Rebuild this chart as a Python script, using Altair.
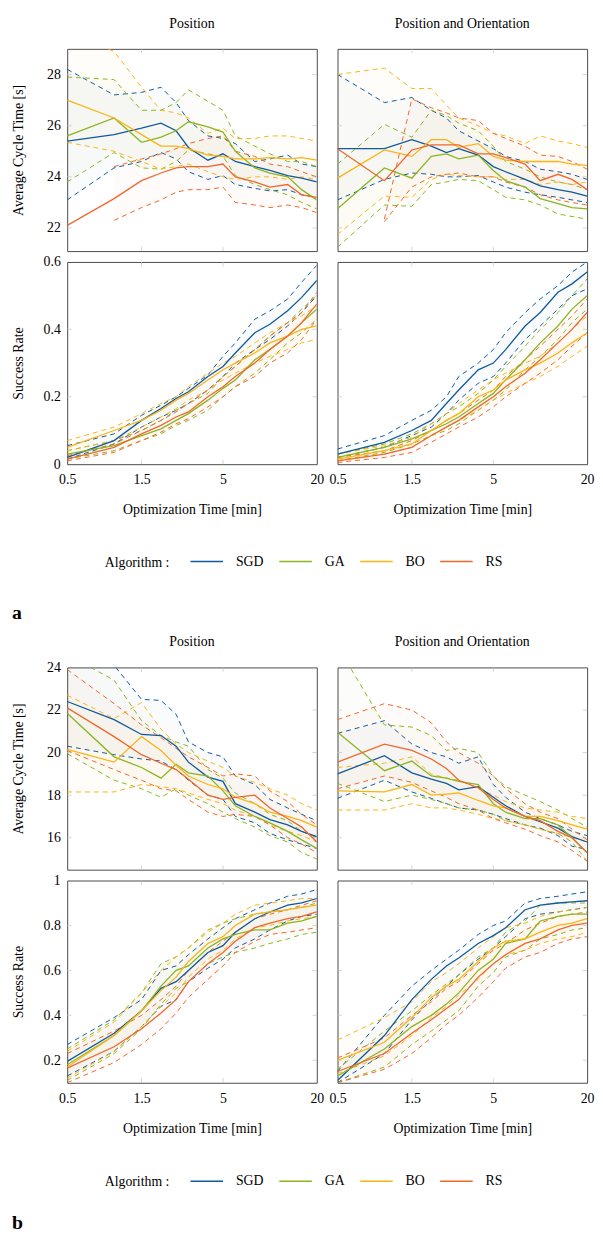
import json
import altair as alt
import pandas as pd

# ---------------- shared axes / categories ----------------
X = [0.5, 1, 1.5, 2, 2.5, 3, 4, 5, 6, 8, 10, 13, 16, 20]
X_TICKS = [0.5, 1.5, 5, 20]
ALGOS = ["SGD", "GA", "BO", "RS"]
COLORS = ["#10599c", "#8bb520", "#fbb414", "#f0672b"]
FONT = "Liberation Serif"

# each tuple: (mean, lower bound, upper bound)
# ---------------- a: Position, Average Cycle Time ----------------
A_POS_CT_SGD = ([25.4, 25.65, 25.9, 26.1, 25.8, 25.15, 24.65, 24.9, 24.6, 24.4, 24.25, 24.05, 23.95, 23.8],
                [23.1, 24.35, 24.6, 24.95, 24.7, 24.2, 23.9, 24.05, 23.7, 23.55, 23.45, 23.5, 23.3, 23.2],
                [28.2, 27.2, 27.3, 27.5, 26.9, 26.2, 25.6, 25.5, 25.3, 24.6, 24.7, 24.85, 24.5, 24.4])
A_POS_CT_GA = ([25.6, 26.3, 25.35, 25.55, 25.8, 26.15, 25.95, 25.75, 25.0, 24.35, 24.15, 24.0, 23.5, 23.1],
               [23.8, 24.95, 24.35, 24.3, 24.6, 25.05, 24.9, 24.8, 24.05, 23.7, 23.5, 23.3, 23.0, 22.75],
               [27.9, 27.8, 26.6, 26.6, 26.9, 27.4, 26.95, 26.6, 25.6, 25.2, 24.9, 24.6, 24.6, 24.4])
A_POS_CT_BO = ([27.0, 26.3, 25.65, 25.2, 25.2, 25.1, 24.85, 24.8, 24.7, 24.7, 24.75, 24.7, 24.75, 24.65],
               [25.35, 25.0, 24.6, 24.3, 24.4, 24.5, 24.2, 24.0, 23.9, 24.0, 24.0, 23.9, 24.0, 23.9],
               [29.6, 28.9, 27.5, 26.6, 26.5, 26.3, 25.7, 25.9, 25.5, 25.5, 25.6, 25.6, 25.5, 25.4])
A_POS_CT_RS = ([22.1, 23.15, 23.85, 24.15, 24.35, 24.4, 24.4, 24.5, 24.0, 23.8, 23.6, 23.7, 23.3, 23.2],
               [None, 22.3, 22.8, 23.1, 23.4, 23.5, 23.5, 23.6, 23.0, 22.9, 22.8, 22.9, 22.8, 22.6],
               [None, 24.4, 24.7, 24.9, 25.1, 25.3, 25.5, 25.6, 25.0, 24.8, 24.5, 24.4, 24.2, 24.0])

# ---------------- a: Position and Orientation, Average Cycle Time ----------------
A_PO_CT_SGD = ([25.1, 25.1, 25.45, 25.2, 24.95, 25.1, 24.85, 24.4, 24.2, 23.9, 23.65, 23.5, 23.4, 23.25],
               [23.1, 23.9, 24.15, 24.1, 24.0, 24.0, 24.05, 23.8, 23.6, 23.4, 23.3, 23.2, 23.1, 23.0],
               [28.0, 26.9, 27.1, 26.6, 26.3, 25.8, 25.4, 25.1, 24.8, 24.6, 24.3, 24.2, 24.1, 23.9])
A_PO_CT_GA = ([22.75, 24.35, 23.95, 24.8, 24.9, 24.7, 24.85, 24.25, 23.85, 23.6, 23.15, 22.95, 22.8, 22.75],
              [21.25, 22.9, 22.85, 23.7, 23.8, 23.9, 23.85, 23.5, 23.2, 23.1, 22.9, 22.55, 22.45, 22.35],
              [24.5, 26.05, 25.55, 26.6, 26.4, 26.1, 25.8, 25.2, 24.6, 24.3, 24.0, 23.8, 23.7, 23.5])
A_PO_CT_BO = ([23.95, 25.05, 24.8, 25.45, 25.45, 25.15, 25.3, 24.8, 24.65, 24.6, 24.6, 24.6, 24.5, 24.45],
              [21.75, 23.25, 23.2, 23.9, 24.1, 24.05, 24.0, 24.0, 23.9, 23.9, 23.7, 23.8, 23.7, 23.8],
              [28.0, 28.25, 27.45, 27.45, 26.8, 26.3, 26.0, 25.7, 25.6, 25.3, 25.6, 25.4, 25.3, 25.15])
A_PO_CT_RS = ([25.1, 23.85, 25.05, 25.25, 25.25, 25.25, 24.9, 24.9, 24.75, 24.5, 23.85, 24.1, 23.9, 23.5],
              [None, 22.25, 23.6, 24.0, 24.1, 24.15, 24.0, 24.0, 23.8, 23.6, 23.3, 23.1, 23.0, 22.9],
              [None, 22.35, 27.05, 26.7, 26.5, 26.3, 26.2, 25.7, 25.5, 25.2, 24.85, 24.8, 24.6, 24.3])

# ---------------- a: Position, Success Rate ----------------
A_POS_SR_SGD = ([0.02, 0.07, 0.13, 0.165, 0.195, 0.215, 0.26, 0.29, 0.33, 0.39, 0.415, 0.455, 0.495, 0.545],
                [0.015, 0.06, 0.11, 0.14, 0.16, 0.18, 0.22, 0.26, 0.3, 0.34, 0.37, 0.41, 0.45, 0.5],
                [0.055, 0.09, 0.145, 0.175, 0.2, 0.225, 0.265, 0.32, 0.36, 0.43, 0.455, 0.49, 0.54, 0.59])
A_POS_SR_GA = ([0.03, 0.055, 0.085, 0.105, 0.13, 0.15, 0.19, 0.225, 0.25, 0.31, 0.34, 0.38, 0.42, 0.46],
               [0.015, 0.04, 0.07, 0.09, 0.115, 0.13, 0.16, 0.2, 0.23, 0.27, 0.31, 0.36, 0.39, 0.43],
               [0.04, 0.07, 0.1, 0.13, 0.16, 0.18, 0.21, 0.26, 0.29, 0.34, 0.38, 0.42, 0.46, 0.5])
A_POS_SR_BO = ([0.05, 0.1, 0.13, 0.16, 0.19, 0.21, 0.25, 0.28, 0.3, 0.33, 0.36, 0.38, 0.4, 0.41],
               [0.04, 0.07, 0.11, 0.14, 0.165, 0.19, 0.22, 0.25, 0.27, 0.3, 0.32, 0.34, 0.36, 0.37],
               [0.07, 0.11, 0.15, 0.18, 0.2, 0.23, 0.27, 0.3, 0.32, 0.36, 0.39, 0.42, 0.44, 0.47])
A_POS_SR_RS = ([0.015, 0.05, 0.09, 0.115, 0.14, 0.155, 0.2, 0.23, 0.26, 0.3, 0.34, 0.38, 0.42, 0.475],
               [0.01, 0.035, 0.07, 0.095, 0.12, 0.135, 0.17, 0.2, 0.23, 0.26, 0.3, 0.33, 0.37, 0.43],
               [0.025, 0.06, 0.1, 0.13, 0.155, 0.18, 0.22, 0.26, 0.29, 0.34, 0.38, 0.42, 0.45, 0.51])

# ---------------- a: Position and Orientation, Success Rate ----------------
A_PO_SR_SGD = ([0.03, 0.065, 0.1, 0.13, 0.18, 0.22, 0.28, 0.3, 0.34, 0.41, 0.45, 0.51, 0.535, 0.57],
               [0.02, 0.05, 0.085, 0.11, 0.15, 0.19, 0.24, 0.26, 0.3, 0.37, 0.41, 0.46, 0.5, 0.52],
               [0.045, 0.085, 0.13, 0.16, 0.2, 0.26, 0.3, 0.34, 0.39, 0.45, 0.49, 0.53, 0.57, 0.6])
A_PO_SR_GA = ([0.02, 0.05, 0.075, 0.1, 0.12, 0.14, 0.18, 0.21, 0.25, 0.31, 0.36, 0.41, 0.46, 0.5],
              [0.01, 0.035, 0.06, 0.085, 0.1, 0.12, 0.16, 0.19, 0.22, 0.28, 0.32, 0.37, 0.42, 0.46],
              [0.03, 0.06, 0.09, 0.12, 0.15, 0.17, 0.21, 0.25, 0.29, 0.35, 0.4, 0.45, 0.5, 0.55])
A_PO_SR_BO = ([0.015, 0.04, 0.06, 0.1, 0.13, 0.15, 0.2, 0.22, 0.25, 0.28, 0.3, 0.33, 0.36, 0.39],
              [0.01, 0.03, 0.05, 0.085, 0.11, 0.13, 0.16, 0.19, 0.21, 0.24, 0.26, 0.29, 0.32, 0.35],
              [0.03, 0.055, 0.08, 0.12, 0.15, 0.18, 0.22, 0.25, 0.27, 0.3, 0.32, 0.36, 0.4, 0.44])
A_PO_SR_RS = ([0.01, 0.03, 0.05, 0.085, 0.11, 0.13, 0.17, 0.2, 0.23, 0.27, 0.31, 0.36, 0.4, 0.45],
              [0.005, 0.02, 0.035, 0.065, 0.09, 0.11, 0.14, 0.17, 0.2, 0.24, 0.27, 0.31, 0.35, 0.39],
              [0.02, 0.04, 0.07, 0.1, 0.13, 0.15, 0.19, 0.22, 0.26, 0.31, 0.35, 0.4, 0.44, 0.49])

# ---------------- b: Position, Average Cycle Time ----------------
B_POS_CT_SGD = ([22.4, 21.55, 20.85, 20.8, 20.3, 19.55, 18.85, 18.65, 17.6, 17.2, 16.85, 16.6, 16.3, 16.05],
                [20.3, 19.9, 19.7, 19.6, 19.2, 18.7, 18.0, 17.8, 17.0, 16.7, 16.2, 15.9, 15.7, 15.5],
                [25.0, 24.1, 22.5, 22.45, 21.8, 20.5, 20.0, 19.8, 18.9, 18.5, 17.8, 17.4, 17.1, 16.8])
B_POS_CT_GA = ([21.85, 19.8, 19.3, 18.8, 19.45, 19.05, 18.9, 18.2, 17.5, 17.0, 16.7, 16.3, 15.9, 15.5],
               [19.95, 18.7, 18.3, 17.9, 18.3, 18.0, 17.6, 17.2, 16.9, 16.5, 16.1, 15.8, 15.3, 15.0],
               [24.6, 23.4, 21.5, 20.8, 20.5, 20.3, 19.2, 18.8, 18.1, 17.6, 17.1, 16.8, 16.3, 16.0])
B_POS_CT_BO = ([20.15, 19.55, 20.75, 20.1, 19.4, 18.9, 18.5, 18.3, 17.9, 17.6, 17.2, 17.0, 16.8, 16.5],
               [18.15, 18.15, 18.5, 18.4, 18.3, 18.1, 17.8, 17.6, 17.3, 17.0, 16.6, 16.3, 16.1, 15.8],
               [22.7, 21.6, 22.35, 21.1, 20.4, 20.0, 19.6, 19.3, 18.9, 18.6, 18.3, 18.0, 17.6, 17.3])
B_POS_CT_RS = ([22.1, 20.75, 19.9, 19.5, 19.2, 18.75, 18.0, 17.8, 17.9, 18.0, 17.4, 16.9, 16.5, 15.8],
               [20.1, 19.2, 18.7, 18.3, 18.2, 17.8, 17.2, 17.0, 17.1, 17.0, 16.6, 16.0, 15.7, 15.3],
               [23.9, 22.3, 21.3, 20.7, 20.2, 19.8, 19.3, 18.9, 19.0, 18.9, 18.2, 17.7, 17.1, 16.6])

# ---------------- b: Position and Orientation, Average Cycle Time ----------------
B_PO_CT_SGD = ([19.0, 19.85, 19.05, 18.75, 18.55, 18.25, 18.4, 17.9, 17.5, 17.0, 16.75, 16.45, 16.05, 15.8],
               [17.85, 18.7, 18.15, 17.85, 17.6, 17.4, 17.3, 17.1, 16.9, 16.6, 16.45, 16.1, 15.6, 15.45],
               [20.9, 21.5, 20.4, 20.0, 19.8, 19.5, 19.8, 18.5, 17.9, 17.2, 16.9, 16.6, 16.3, 16.1])
B_PO_CT_GA = ([20.95, 19.15, 19.6, 18.9, 18.8, 18.65, 18.5, 17.6, 17.2, 16.9, 16.9, 16.6, 16.0, 15.3],
              [18.55, 17.7, 18.0, 17.8, 17.6, 17.4, 17.3, 17.1, 16.8, 16.6, 16.4, 16.2, 15.8, 14.9],
              [25.0, 21.3, 21.2, 20.8, 20.1, 20.2, 20.0, 18.9, 18.4, 18.0, 17.7, 17.3, 16.9, 16.5])
B_PO_CT_BO = ([18.2, 18.15, 18.5, 18.0, 18.05, 18.1, 17.75, 17.5, 17.4, 17.0, 17.0, 16.8, 16.6, 16.4],
              [17.3, 17.3, 17.6, 17.4, 17.4, 17.3, 17.1, 16.9, 16.8, 16.6, 16.4, 16.2, 16.0, 15.8],
              [19.3, 19.5, 19.8, 19.0, 18.8, 18.7, 18.3, 18.0, 17.7, 17.4, 17.3, 17.2, 17.0, 16.9])
B_PO_CT_RS = ([19.55, 20.4, 20.1, 19.7, 19.25, 18.7, 18.35, 17.8, 17.4, 17.0, 16.8, 16.3, 16.0, 15.3],
              [18.3, 18.9, 18.6, 18.2, 17.9, 17.6, 17.3, 16.9, 16.7, 16.4, 16.1, 15.8, 15.4, 14.9],
              [21.55, 22.3, 22.0, 21.4, 20.5, 20.0, 19.5, 18.9, 18.3, 17.6, 17.2, 16.9, 16.4, 15.9])

# ---------------- b: Position, Success Rate ----------------
B_POS_SR_SGD = ([0.195, 0.32, 0.42, 0.52, 0.55, 0.6, 0.68, 0.71, 0.77, 0.83, 0.86, 0.89, 0.9, 0.92],
                [0.13, 0.24, 0.35, 0.44, 0.47, 0.55, 0.61, 0.65, 0.7, 0.74, 0.78, 0.82, 0.84, 0.85],
                [0.27, 0.39, 0.47, 0.6, 0.62, 0.67, 0.74, 0.79, 0.83, 0.87, 0.9, 0.93, 0.94, 0.96])
B_POS_SR_GA = ([0.18, 0.31, 0.42, 0.53, 0.6, 0.62, 0.7, 0.74, 0.76, 0.78, 0.78, 0.81, 0.82, 0.84],
               [0.11, 0.23, 0.34, 0.45, 0.52, 0.55, 0.63, 0.66, 0.68, 0.7, 0.72, 0.74, 0.76, 0.77],
               [0.25, 0.38, 0.5, 0.63, 0.66, 0.7, 0.78, 0.81, 0.83, 0.85, 0.86, 0.87, 0.88, 0.9])
B_POS_SR_BO = ([0.17, 0.31, 0.42, 0.51, 0.57, 0.64, 0.72, 0.75, 0.8, 0.85, 0.86, 0.87, 0.88, 0.89],
               [0.12, 0.24, 0.35, 0.44, 0.5, 0.57, 0.65, 0.69, 0.74, 0.79, 0.8, 0.82, 0.83, 0.84],
               [0.24, 0.37, 0.5, 0.6, 0.66, 0.7, 0.77, 0.81, 0.85, 0.89, 0.9, 0.91, 0.92, 0.92])
B_POS_SR_RS = ([0.165, 0.26, 0.34, 0.41, 0.47, 0.55, 0.63, 0.68, 0.73, 0.79, 0.81, 0.83, 0.84, 0.86],
               [0.1, 0.19, 0.27, 0.34, 0.41, 0.48, 0.56, 0.62, 0.68, 0.73, 0.76, 0.77, 0.78, 0.79],
               [0.23, 0.33, 0.4, 0.47, 0.53, 0.6, 0.68, 0.73, 0.77, 0.83, 0.85, 0.87, 0.89, 0.91])

# ---------------- b: Position and Orientation, Success Rate ----------------
B_PO_SR_SGD = ([0.11, 0.31, 0.47, 0.56, 0.62, 0.655, 0.72, 0.755, 0.79, 0.87, 0.89, 0.9, 0.905, 0.91],
               [0.1, 0.23, 0.38, 0.47, 0.53, 0.58, 0.65, 0.7, 0.75, 0.83, 0.85, 0.86, 0.87, 0.88],
               [0.15, 0.4, 0.53, 0.6, 0.65, 0.69, 0.76, 0.8, 0.82, 0.9, 0.92, 0.93, 0.94, 0.95])
B_PO_SR_GA = ([0.13, 0.25, 0.35, 0.4, 0.45, 0.5, 0.6, 0.65, 0.72, 0.74, 0.82, 0.84, 0.85, 0.85],
              [0.1, 0.17, 0.27, 0.33, 0.38, 0.42, 0.53, 0.59, 0.66, 0.69, 0.74, 0.76, 0.78, 0.79],
              [0.16, 0.33, 0.42, 0.49, 0.54, 0.58, 0.66, 0.7, 0.77, 0.82, 0.89, 0.9, 0.9, 0.9])
B_PO_SR_BO = ([0.2, 0.28, 0.39, 0.48, 0.53, 0.56, 0.64, 0.7, 0.73, 0.74, 0.77, 0.8, 0.81, 0.83],
              [0.14, 0.22, 0.31, 0.39, 0.44, 0.49, 0.56, 0.63, 0.67, 0.69, 0.72, 0.74, 0.75, 0.77],
              [0.29, 0.39, 0.46, 0.55, 0.59, 0.63, 0.7, 0.75, 0.79, 0.81, 0.84, 0.86, 0.87, 0.88])
B_PO_SR_RS = ([0.15, 0.23, 0.32, 0.38, 0.43, 0.47, 0.57, 0.63, 0.67, 0.72, 0.74, 0.78, 0.8, 0.81],
              [0.1, 0.16, 0.23, 0.3, 0.36, 0.4, 0.48, 0.55, 0.61, 0.66, 0.68, 0.72, 0.74, 0.75],
              [0.21, 0.3, 0.4, 0.46, 0.52, 0.55, 0.63, 0.69, 0.72, 0.78, 0.81, 0.84, 0.85, 0.86])

W, H = 253, 205
# part a legend: colour scale with a literal domain; part b legend: stroke scale whose
# domain is given as an expression, so that the two legends stay separate.
SCALE_A = alt.Scale(domain=ALGOS, range=COLORS)
SCALE_B = alt.Scale(domain=alt.ExprRef(expr=json.dumps(ALGOS)), range=COLORS)


def frames(series):
    line_rows, band_rows = [], []
    for algo, (mean, lo, hi) in zip(ALGOS, series):
        for x, m, l, h in zip(X, mean, lo, hi):
            line_rows.append({"x": x, "algo": algo, "kind": "mean", "v": m})
            if l is not None:
                line_rows.append({"x": x, "algo": algo, "kind": "lo", "v": l})
                line_rows.append({"x": x, "algo": algo, "kind": "hi", "v": h})
                band_rows.append({"x": x, "algo": algo, "lo": l, "hi": h})
    return pd.DataFrame(line_rows), pd.DataFrame(band_rows)


def make_legend(legend_y):
    return alt.Legend(title="Algorithm :", orient="none", legendX=38, legendY=legend_y,
                      direction="horizontal", titleOrient="left", titleAnchor="middle",
                      titleBaseline="top", symbolType="stroke",
                      symbolSize=1089, symbolStrokeWidth=1.5, labelOffset=12, columnPadding=12,
                      titlePadding=20, labelFont=FONT, labelFontSize=14, titleFont=FONT,
                      titleFontSize=14, titleFontWeight="normal", labelColor="black",
                      titleColor="black")


LEGEND_A = make_legend(502)
LEGEND_B = make_legend(1130)

AX_TEXT = dict(labelFont=FONT, titleFont=FONT, labelFontSize=14, titleFontSize=14,
               labelColor="black", titleColor="black", titleFontWeight="normal")


def panel(series, ydom, yticks, part, ytitle=None, xaxis=False, title=None, title_offset=18,
          label=None, label_offset=91, label_pad=None):
    lines, band = frames(series)
    xs = alt.Scale(type="log", domain=[0.5, 20], nice=False)
    ys = alt.Scale(domain=ydom, nice=False, zero=False)
    xax = (alt.Axis(values=X_TICKS, format="~g", title="Optimization Time [min]", ticks=False,
                    domain=False, grid=False, labelPadding=9, titlePadding=16,
                    labelFlush=False, labelOverlap=False, **AX_TEXT) if xaxis else None)
    yax = (alt.Axis(values=yticks, format="~g", title=ytitle, ticks=False, domain=False, grid=False,
                    labelPadding=7, titlePadding=16, minExtent=26, maxExtent=26,
                    labelOverlap=False, **AX_TEXT) if ytitle else None)

    def ex(field):
        return alt.X(field, scale=xs, axis=xax)

    def ey(field):
        return alt.Y(field, scale=ys, axis=yax)

    layers = []
    for algo, col in zip(ALGOS, COLORS):
        layers.append(
            alt.Chart(band[band["algo"] == algo]).mark_area(clip=True, opacity=0.025, color=col).encode(
                x=ex("x:Q"), y=ey("lo:Q"), y2="hi:Q")
        )
    tick_style = dict(clip=True, size=9, thickness=1, color="#c4c4c4")
    xt = pd.DataFrame({"t": [v for v in X_TICKS if 0.5 < v < 20]})
    yt = pd.DataFrame({"t": [v for v in yticks if ydom[0] < v < ydom[1]]})
    layers += [
        alt.Chart(xt).mark_tick(orient="vertical", **tick_style).encode(x=ex("t:Q"), y=alt.value(0)),
        alt.Chart(xt).mark_tick(orient="vertical", **tick_style).encode(x=ex("t:Q"), y=alt.value(H)),
        alt.Chart(yt).mark_tick(orient="horizontal", **tick_style).encode(y=ey("t:Q"), x=alt.value(0)),
        alt.Chart(yt).mark_tick(orient="horizontal", **tick_style).encode(y=ey("t:Q"), x=alt.value(W)),
    ]
    for algo, col in zip(ALGOS, COLORS):
        d = lines[(lines["kind"] != "mean") & (lines["algo"] == algo)]
        layers.append(
            alt.Chart(d).mark_line(clip=True, strokeWidth=1, strokeDash=[5, 4], color=col).encode(
                x=ex("x:Q"), y=ey("v:Q"), detail="kind:N")
        )
    means = lines[lines["kind"] == "mean"]
    if part == "a":
        cenc = dict(color=alt.Color("algo:N", scale=SCALE_A, legend=LEGEND_A))
    else:
        cenc = dict(stroke=alt.Stroke("algo:N", scale=SCALE_B, legend=LEGEND_B))
    layers.append(alt.Chart(means).mark_line(clip=True, strokeWidth=1.3).encode(
        x=ex("x:Q"), y=ey("v:Q"), **cenc))

    props = dict(width=W, height=H)
    if title:
        props["title"] = alt.TitleParams(title, font=FONT, fontSize=14, fontWeight="normal",
                                         color="black", frame="group", offset=title_offset)
    if label:
        extra = {}
        if label_pad is not None:
            extra = dict(subtitle=" ", subtitleFontSize=1, subtitlePadding=label_pad)
        props["title"] = alt.TitleParams(label, orient="bottom", anchor="start", frame="bounds",
                                         font=FONT, fontSize=20, fontWeight="bold",
                                         color="black", offset=label_offset, **extra)
    return alt.layer(*layers).properties(**props)


CT_A = ([21.1, 29.0], [22, 24, 26, 28])
SR_A = ([0, 0.6], [0, 0.2, 0.4, 0.6])
CT_B = ([14.5, 24.0], [16, 18, 20, 22, 24])
SR_B = ([0.1, 1.0], [0.2, 0.4, 0.6, 0.8, 1])

panels = [
    panel([A_POS_CT_SGD, A_POS_CT_GA, A_POS_CT_BO, A_POS_CT_RS], *CT_A, "a",
          ytitle="Average Cycle Time [s]", title="Position", title_offset=18),
    panel([A_PO_CT_SGD, A_PO_CT_GA, A_PO_CT_BO, A_PO_CT_RS], *CT_A, "a",
          title="Position and Orientation", title_offset=18),
    panel([A_POS_SR_SGD, A_POS_SR_GA, A_POS_SR_BO, A_POS_SR_RS], *SR_A, "a",
          ytitle="Success Rate", xaxis=True, label="a", label_offset=88, label_pad=7),
    panel([A_PO_SR_SGD, A_PO_SR_GA, A_PO_SR_BO, A_PO_SR_RS], *SR_A, "a", xaxis=True),
    panel([B_POS_CT_SGD, B_POS_CT_GA, B_POS_CT_BO, B_POS_CT_RS], *CT_B, "b",
          ytitle="Average Cycle Time [s]", title="Position", title_offset=12),
    panel([B_PO_CT_SGD, B_PO_CT_GA, B_PO_CT_BO, B_PO_CT_RS], *CT_B, "b",
          title="Position and Orientation", title_offset=19),
    panel([B_POS_SR_SGD, B_POS_SR_GA, B_POS_SR_BO, B_POS_SR_RS], *SR_B, "b",
          ytitle="Success Rate", xaxis=True, label="b", label_offset=79),
    panel([B_PO_SR_SGD, B_PO_SR_GA, B_PO_SR_BO, B_PO_SR_RS], *SR_B, "b", xaxis=True),
]

chart = alt.concat(
    *panels, columns=2, spacing={"row": 2, "column": 3}, align="each",
    padding={"left": 3, "top": 0, "right": 0, "bottom": 0},
).configure_view(
    stroke="#4a4a4a", strokeWidth=1
).configure_axis(**AX_TEXT)

chart.save("out.html", embed_options={"renderer": "svg", "actions": False})
